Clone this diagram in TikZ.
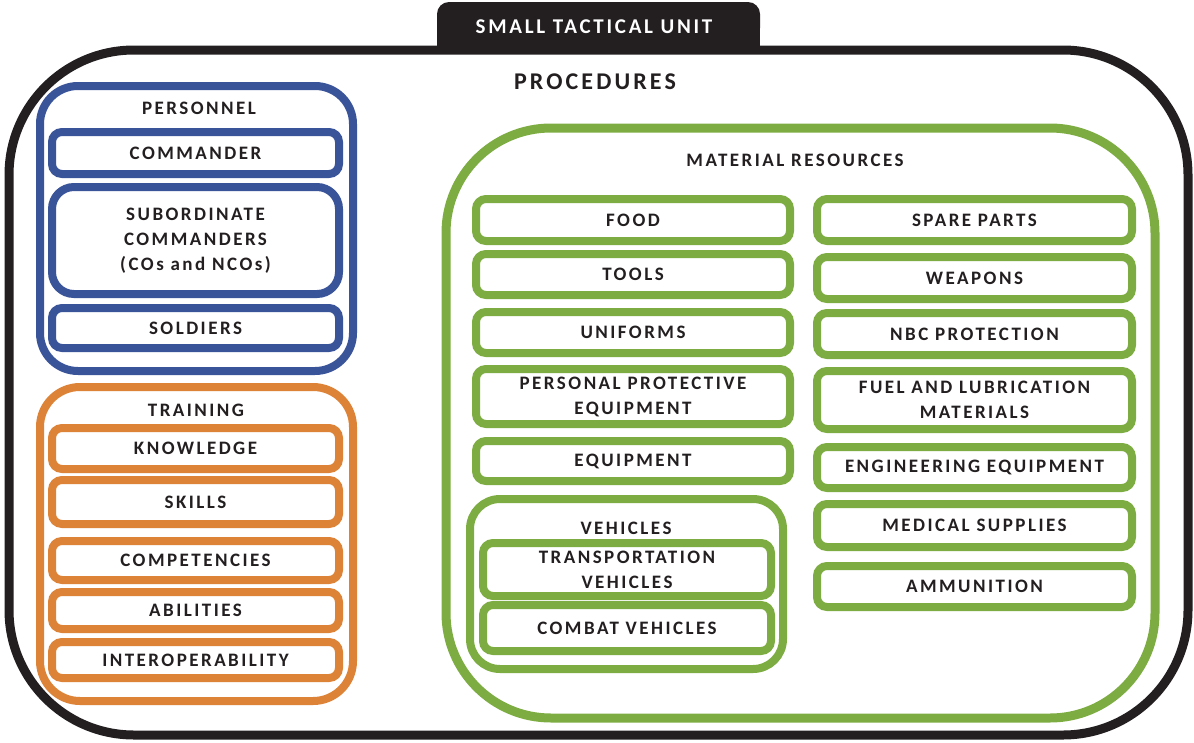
\documentclass[tikz,border=0pt]{standalone}
\usepackage{fontspec}
\newfontfamily\spaced{Carlito}[LetterSpace=13]
\usetikzlibrary{positioning}

\definecolor{ink}{RGB}{35,31,32}
\definecolor{persblue}{RGB}{58,84,154}
\definecolor{trainorange}{RGB}{221,131,56}
\definecolor{matgreen}{RGB}{125,173,66}

\begin{document}
\begin{tikzpicture}[x=1pt, y=-1pt,
    lbl/.style={font=\spaced\bfseries\fontsize{19}{25}\selectfont, text=ink, align=center, inner sep=0pt},
    item/.style={lbl, draw, line width=8pt, rounded corners=10pt, fill=white},
    blueitem/.style={item, draw=persblue, minimum width=287pt},
    orangeitem/.style={item, draw=trainorange, minimum width=287pt},
    greenitem/.style={item, draw=matgreen, minimum width=314pt},
    group/.style={draw, line width=8pt, fill=white},
    frame/.style={draw=ink, line width=9pt, fill=white, rounded corners=125pt},
    heading/.style={lbl, font=\spaced\bfseries\fontsize{24}{28}\selectfont},
    tabtitle/.style={lbl, text=white, font=\spaced\bfseries\fontsize{21}{25}\selectfont}]
    \useasboundingbox (0,0) rectangle (1194,742);

    % outer frame with its tab
    \node[frame, minimum width=1179pt, minimum height=685pt] (unit) at (598.5,392.5) {};
    \fill[ink, rounded corners=12pt] (437,2) rectangle (760,40);
    \fill[ink] (437,20) rectangle (760,52);
    \node[tabtitle] (unit-title) at (594,27) {SMALL TACTICAL UNIT};
    \node[heading] (procedures) at (595,82) {PROCEDURES};

    % personnel
    \node[group, draw=persblue, minimum width=313pt, minimum height=285pt, rounded corners=38pt] (personnel) at (196.5,228.5) {};
    \node[lbl] (personnel-title) at (199,108) {PERSONNEL};
    \node[blueitem, minimum height=42pt] (commander) at (195.5,153) {COMMANDER};
    \node[blueitem, minimum height=107pt, rounded corners=22pt] (subcmd) at (195.5,240.5) {SUBORDINATE\\COMMANDERS\\(COs and NCOs)};
    \node[blueitem, minimum height=40pt] (soldiers) at (195.5,328) {SOLDIERS};

    % training
    \node[group, draw=trainorange, minimum width=313pt, minimum height=314pt, rounded corners=40pt] (training) at (196.5,544) {};
    \node[lbl] (training-title) at (196,410) {TRAINING};
    \node[orangeitem, minimum height=41pt] (knowledge) at (195.5,448.5) {KNOWLEDGE};
    \node[orangeitem, minimum height=44pt] (skills) at (195.5,502) {SKILLS};
    \node[orangeitem, minimum height=39pt] (competencies) at (195.5,560.5) {COMPETENCIES};
    \node[orangeitem, minimum height=37pt] (abilities) at (195.5,610.5) {ABILITIES};
    \node[orangeitem, minimum height=36pt] (interop) at (195.5,660) {INTEROPERABILITY};

    % material resources
    \node[group, draw=matgreen, line width=9pt, minimum width=709pt, minimum height=590pt, rounded corners=105pt] (material) at (800.5,423) {};
    \node[lbl] (material-title) at (795,160) {MATERIAL RESOURCES};

    % left column
    \node[greenitem, minimum height=42pt] (food) at (633,220) {FOOD};
    \node[greenitem, minimum height=41pt] (tools) at (633,274.5) {TOOLS};
    \node[greenitem, minimum height=41pt] (uniforms) at (633,332.5) {UNIFORMS};
    \node[greenitem, minimum height=55pt] (ppe) at (633,396.5) {PERSONAL PROTECTIVE\\EQUIPMENT};
    \node[greenitem, minimum height=40pt] (equipment) at (633,461) {EQUIPMENT};
    \node[group, draw=matgreen, minimum width=313pt, minimum height=170pt, rounded corners=30pt] (vehicles) at (626.5,584) {};
    \node[lbl] (vehicles-title) at (626,528) {VEHICLES};
    \node[greenitem, minimum width=288pt, minimum height=53pt] (transport) at (627,569.5) {TRANSPORTATION\\VEHICLES};
    \node[greenitem, minimum width=288pt, minimum height=46pt] (combat) at (627,628) {COMBAT VEHICLES};

    % right column
    \node[greenitem, minimum width=315pt, minimum height=42pt] (spare) at (974.5,220) {SPARE PARTS};
    \node[greenitem, minimum width=315pt, minimum height=42pt] (weapons) at (974.5,278) {WEAPONS};
    \node[greenitem, minimum width=315pt, minimum height=42pt] (nbc) at (974.5,334) {NBC PROTECTION};
    \node[greenitem, minimum width=315pt, minimum height=58pt] (fuel) at (974.5,400) {FUEL AND LUBRICATION\\MATERIALS};
    \node[greenitem, minimum width=315pt, minimum height=41pt] (engineering) at (974.5,467.5) {ENGINEERING EQUIPMENT};
    \node[greenitem, minimum width=315pt, minimum height=43pt] (medical) at (974.5,525.5) {MEDICAL SUPPLIES};
    \node[greenitem, minimum width=315pt, minimum height=41pt] (ammunition) at (974.5,586.5) {AMMUNITION};
\end{tikzpicture}
\end{document}
